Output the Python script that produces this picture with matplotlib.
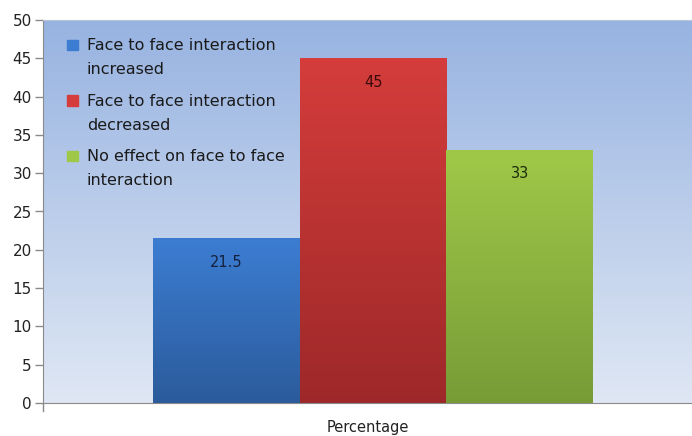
import numpy as np
import matplotlib
matplotlib.use('Agg')
import matplotlib.pyplot as plt
from matplotlib.colors import LinearSegmentedColormap
from matplotlib.patches import Rectangle

# Datos
categorias = ['Face to face interaction\nincreased',
              'Face to face interaction\ndecreased',
              'No effect on face to face\ninteraction']
valores = [21.5, 45, 33]
etiquetas = ['21.5', '45', '33']
eje_x = 'Percentage'
yticks = [0, 5, 10, 15, 20, 25, 30, 35, 40, 45, 50]

# Colores (arriba, abajo) del degradado de cada barra
degradados = [('#3c7dd2', '#2b5b9b'), ('#d43d3b', '#9e2829'), ('#a0c848', '#779c37')]
colores_texto = ['#14213d', '#3a0a0a', '#1d2a0c']

fig = plt.figure(figsize=(6.92, 4.36), dpi=100)
ax = fig.add_axes([43/692, 33/436, 649/692, 383/436])

# Fondo degradado del area del grafico
fondo = LinearSegmentedColormap.from_list('fondo', ['#dfe7f4', '#97b3e1'])
grad = np.linspace(0, 1, 256).reshape(-1, 1)
ax.imshow(grad, cmap=fondo, origin='lower', aspect='auto',
          extent=[0, 1, 0, 1], transform=ax.transAxes, zorder=0)

# Barras con degradado vertical
posiciones = np.arange(len(valores)) - 1
barras = ax.bar(posiciones, valores, width=1.0, color='none', zorder=2)
for barra, (c_arriba, c_abajo), txt, col in zip(barras, degradados, etiquetas, colores_texto):
    cmap = LinearSegmentedColormap.from_list('b', [c_abajo, c_arriba])
    x0, y0 = barra.get_x(), barra.get_y()
    w, h = barra.get_width(), barra.get_height()
    im = ax.imshow(grad, cmap=cmap, origin='lower', aspect='auto',
                   extent=[x0, x0 + w, y0, y0 + h], zorder=2)
    im.set_clip_path(barra)
    ax.text(x0 + w / 2, h - 3.1, txt, ha='center', va='center',
            fontsize=10.5, color=col, zorder=4)

ax.set_xlim(-2.253, 2.177)
ax.set_ylim(0, 50)

# Leyenda manual (cuadro a la izquierda de la primera linea)
colores_leyenda = [d[0] for d in degradados]
for i, (cat, col) in enumerate(zip(categorias, colores_leyenda)):
    y_px = 40 + i * 55.5
    ya = 1 - (y_px - 20) / 383
    ax.add_patch(Rectangle((24/649, ya - 10/383), 11/649, 10/383,
                           transform=ax.transAxes, color=col, zorder=5))
    ax.text(44/649, ya + 2/383, cat, transform=ax.transAxes, ha='left', va='top',
            fontsize=11.5, color='#1a1a1a', linespacing=1.75, zorder=5)

# Ejes
ax.set_yticks(yticks)
ax.set_xticks([])
ax.tick_params(axis='y', length=6, width=1, color='#8a8a8a', labelsize=11,
               labelcolor='#222222', pad=2)
for lado in ['left', 'bottom']:
    ax.spines[lado].set_color('#8a8a8a')
ax.spines['top'].set_color('#b8c4d4')
ax.spines['right'].set_visible(False)
ax.plot([0, 0], [0, -0.02], transform=ax.transAxes, color='#8a8a8a',
        lw=1, clip_on=False)
ax.set_xlabel(eje_x, fontsize=10.5, color='#222222', labelpad=12)

fig.savefig('out.png', dpi=100)
